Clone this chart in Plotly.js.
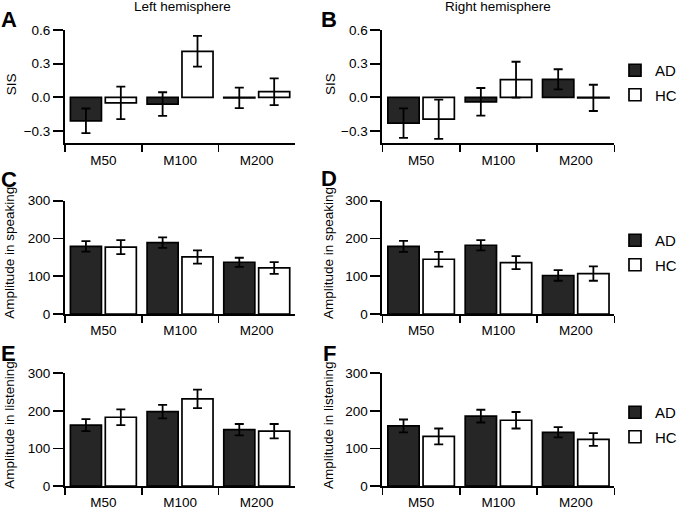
<!DOCTYPE html>
<html>
<head>
<meta charset="utf-8">
<script src="https://cdn.plot.ly/plotly-3.0.1.min.js"></script>
<style>html,body{margin:0;padding:0;background:#fff;}#chart{width:682px;height:510px;}</style>
</head>
<body>
<div id="chart"></div>
<script>
// ---- data ----
const categories = ['M50', 'M100', 'M200'];
const groups = ['AD', 'HC'];

const sisLeftAD = [-0.21, -0.06, -0.005];
const sisLeftADErr = [0.11, 0.105, 0.092];
const sisLeftHC = [-0.05, 0.41, 0.05];
const sisLeftHCErr = [0.145, 0.137, 0.119];

const sisRightAD = [-0.23, -0.04, 0.16];
const sisRightADErr = [0.131, 0.123, 0.09];
const sisRightHC = [-0.195, 0.157, -0.005];
const sisRightHCErr = [0.175, 0.16, 0.117];

const speakLeftAD = [179, 189, 137];
const speakLeftADErr = [14, 14, 12];
const speakLeftHC = [177, 151, 122];
const speakLeftHCErr = [18.5, 17.5, 15.5];

const speakRightAD = [179, 182, 102];
const speakRightADErr = [14.5, 13.5, 14];
const speakRightHC = [145, 136, 107];
const speakRightHCErr = [19.5, 17, 19];

const listenLeftAD = [162, 198, 150];
const listenLeftADErr = [16, 18, 15];
const listenLeftHC = [183, 232, 146];
const listenLeftHCErr = [21, 24.5, 19];

const listenRightAD = [160, 186, 143];
const listenRightADErr = [17, 17, 13.5];
const listenRightHC = [132, 175, 124];
const listenRightHCErr = [21, 22, 17];

const sisTicks = [-0.3, 0, 0.3, 0.6];
const ampTicks = [0, 100, 200, 300];

// ---- styling ----
const W = 682, H = 510;
const FONT = 'Liberation Sans, Arial, Helvetica, sans-serif';
const fillAD = '#262626', fillHC = '#ffffff';

function px(x) { return x / W; }
function py(y) { return 1 - y / H; }

function barTrace(vals, errs, name, fill, xa, ya, legendId) {
  return {
    type: 'bar', x: categories, y: vals, name: name,
    xaxis: xa, yaxis: ya,
    marker: {color: fill, line: {color: '#000', width: 1.7}},
    error_y: {type: 'data', array: errs, visible: true, color: '#000', thickness: 1.8, width: 4.5},
    showlegend: !!legendId, legend: legendId || 'legend',
    legendgroup: name + (legendId || ''),
    hoverinfo: 'skip'
  };
}

const data = [
  barTrace(sisLeftAD, sisLeftADErr, groups[0], fillAD, 'x', 'y', null),
  barTrace(sisLeftHC, sisLeftHCErr, groups[1], fillHC, 'x', 'y', null),
  barTrace(sisRightAD, sisRightADErr, groups[0], fillAD, 'x2', 'y2', 'legend'),
  barTrace(sisRightHC, sisRightHCErr, groups[1], fillHC, 'x2', 'y2', 'legend'),
  barTrace(speakLeftAD, speakLeftADErr, groups[0], fillAD, 'x3', 'y3', null),
  barTrace(speakLeftHC, speakLeftHCErr, groups[1], fillHC, 'x3', 'y3', null),
  barTrace(speakRightAD, speakRightADErr, groups[0], fillAD, 'x4', 'y4', 'legend2'),
  barTrace(speakRightHC, speakRightHCErr, groups[1], fillHC, 'x4', 'y4', 'legend2'),
  barTrace(listenLeftAD, listenLeftADErr, groups[0], fillAD, 'x5', 'y5', null),
  barTrace(listenLeftHC, listenLeftHCErr, groups[1], fillHC, 'x5', 'y5', null),
  barTrace(listenRightAD, listenRightADErr, groups[0], fillAD, 'x6', 'y6', 'legend3'),
  barTrace(listenRightHC, listenRightHCErr, groups[1], fillHC, 'x6', 'y6', 'legend3')
];

const leftX = [px(67), px(304)];
const rightX = [px(394), px(633)];
const rowA = [py(143.3), py(30)];
const rowC = [py(314), py(200.7)];
const rowE = [py(486), py(373.3)];

function xAxis(domain, anchor) {
  return {
    domain: domain, anchor: anchor, type: 'category', range: [-0.5, 2.5],
    showline: true, linecolor: '#000', linewidth: 2,
    ticks: 'outside', tickson: 'boundaries', ticklen: 7, tickwidth: 1.8, tickcolor: '#000',
    ticklabelstandoff: 3,
    showgrid: false, zeroline: false, fixedrange: true,
    tickfont: {family: FONT, size: 13.5, color: '#000'}
  };
}
function yAxis(domain, anchor, range, tickvals, fmt) {
  return {
    domain: domain, anchor: anchor, range: range,
    tickmode: 'array', tickvals: tickvals, tickformat: fmt,
    showline: true, linecolor: '#000', linewidth: 2,
    ticks: 'outside', ticklen: 10, tickwidth: 1.8, tickcolor: '#000',
    showgrid: false, zeroline: false, fixedrange: true,
    tickfont: {family: FONT, size: 13.5, color: '#000'}
  };
}

function legendCfg(yTop) {
  return {
    x: px(634), xanchor: 'left', y: py(yTop), yanchor: 'top',
    font: {family: FONT, size: 15, color: '#000'},
    bgcolor: 'rgba(0,0,0,0)', borderwidth: 0,
    tracegroupgap: 2, traceorder: 'grouped', itemclick: false, itemdoubleclick: false
  };
}

function ann(text, x, y, size, opts) {
  return Object.assign({
    text: text, x: px(x), y: py(y), xref: 'paper', yref: 'paper',
    xanchor: 'center', yanchor: 'middle', showarrow: false,
    font: {family: FONT, size: size, color: '#000'}
  }, opts || {});
}

const annotations = [
  ann('Left hemisphere', 188.5, 7, 13.5),
  ann('Right hemisphere', 513, 7, 13.5),
  ann('<b>A</b>', 9, 20, 22), ann('<b>B</b>', 339, 20, 22),
  ann('<b>C</b>', 9, 179, 22), ann('<b>D</b>', 339, 178, 22),
  ann('<b>E</b>', 9, 353, 22), ann('<b>F</b>', 339, 353, 22),
  ann('SIS', 12.5, 84, 13.5, {textangle: -90}),
  ann('SIS', 341, 84, 13.5, {textangle: -90}),
  ann('Amplitude in speaking', 9, 253, 13.5, {textangle: -90}),
  ann('Amplitude in speaking', 338, 253, 13.5, {textangle: -90}),
  ann('Amplitude in listening', 9, 425, 13.5, {textangle: -90}),
  ann('Amplitude in listening', 338, 425, 13.5, {textangle: -90})
];

const layout = {
  width: W, height: H,
  margin: {l: 0, r: 0, t: 0, b: 0},
  paper_bgcolor: '#fff', plot_bgcolor: 'rgba(0,0,0,0)',
  barmode: 'group', bargap: 0.09, bargroupgap: 0.11,
  font: {family: FONT, color: '#000'},
  xaxis: xAxis(leftX, 'y'),
  yaxis: yAxis(rowA, 'x', [-0.41, 0.6], sisTicks, '.1f'),
  xaxis2: xAxis(rightX, 'y2'),
  yaxis2: yAxis(rowA, 'x2', [-0.41, 0.6], sisTicks, '.1f'),
  xaxis3: xAxis(leftX, 'y3'),
  yaxis3: yAxis(rowC, 'x3', [0, 300], ampTicks, 'd'),
  xaxis4: xAxis(rightX, 'y4'),
  yaxis4: yAxis(rowC, 'x4', [0, 300], ampTicks, 'd'),
  xaxis5: xAxis(leftX, 'y5'),
  yaxis5: yAxis(rowE, 'x5', [0, 300], ampTicks, 'd'),
  xaxis6: xAxis(rightX, 'y6'),
  yaxis6: yAxis(rowE, 'x6', [0, 300], ampTicks, 'd'),
  legend: legendCfg(54),
  legend2: legendCfg(224),
  legend3: legendCfg(396),
  annotations: annotations,
  showlegend: true
};

Plotly.newPlot('chart', data, layout, {staticPlot: true, displayModeBar: false});
</script>
</body>
</html>
